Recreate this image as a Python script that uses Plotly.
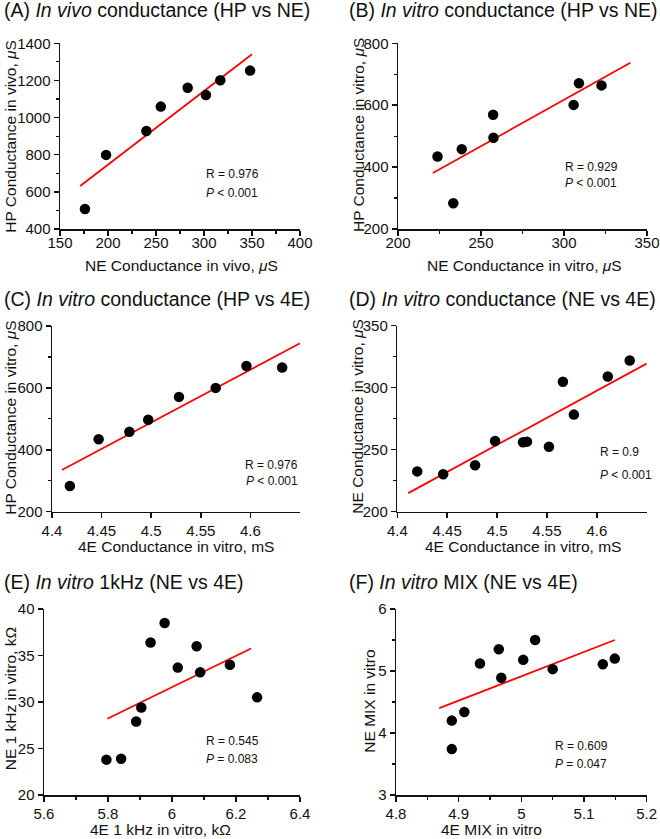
import plotly.graph_objects as go

# ---------------- data ----------------
# (A) In vivo conductance, HP vs NE
a_x = [176, 198, 240, 255, 283, 302, 317, 348]
a_y = [508, 799, 928, 1059, 1161, 1122, 1201, 1253]
a_fit_x = [171, 350]
a_fit_y = [632, 1341]

# (B) In vitro conductance, HP vs NE
b_x = [223.8, 233.3, 238.4, 257.3, 257.5, 305.8, 309.0, 322.6]
b_y = [434, 283, 458, 569, 495, 601, 671, 664]
b_fit_x = [221, 340]
b_fit_y = [381, 737]

# (C) In vitro conductance, HP vs 4E
c_x = [4.418, 4.447, 4.478, 4.497, 4.528, 4.565, 4.596, 4.632]
c_y = [283, 434, 458, 497, 571, 600, 671, 666]
c_fit_x = [4.41, 4.65]
c_fit_y = [335, 744]

# (D) In vitro conductance, NE vs 4E
d_x = [4.420, 4.446, 4.478, 4.498, 4.526, 4.530, 4.552, 4.566, 4.577, 4.611, 4.633]
d_y = [232.5, 230.2, 237.5, 257.0, 256.0, 256.5, 252.4, 304.8, 278.3, 309.0, 322.0]
d_fit_x = [4.411, 4.65]
d_fit_y = [215.0, 319.5]

# (E) In vitro 1 kHz, NE vs 4E
e_x = [5.795, 5.841, 5.888, 5.904, 5.933, 5.977, 6.018, 6.077, 6.088, 6.181, 6.266]
e_y = [23.8, 23.9, 27.9, 29.4, 36.4, 38.5, 33.7, 36.0, 33.2, 34.0, 30.5]
e_fit_x = [5.798, 6.247]
e_fit_y = [28.2, 35.75]

# (F) In vitro MIX, NE vs 4E
f_x = [4.889, 4.889, 4.909, 4.934, 4.964, 4.968, 5.003, 5.022, 5.050, 5.130, 5.149]
f_y = [4.20, 3.74, 4.34, 5.12, 5.35, 4.89, 5.18, 5.50, 5.03, 5.11, 5.20]
f_fit_x = [4.869, 5.149]
f_fit_y = [4.40, 5.50]

# tick values / labels
a_xticks = [150, 200, 250, 300, 350, 400]
a_yticks = [400, 600, 800, 1000, 1200, 1400]
b_xticks = [200, 250, 300, 350]
b_yticks = [200, 400, 600, 800]
c_xticks = [4.4, 4.45, 4.5, 4.55, 4.6]
c_xlabels = ["4.4", "4.45", "4.5", "4.55", "4.6"]
c_yticks = [200, 400, 600, 800]
d_xticks = [4.4, 4.45, 4.5, 4.55, 4.6]
d_xlabels = ["4.4", "4.45", "4.5", "4.55", "4.6"]
d_yticks = [200, 250, 300, 350]
e_xticks = [5.6, 5.8, 6.0, 6.2, 6.4]
e_xlabels = ["5.6", "5.8", "6", "6.2", "6.4"]
e_yticks = [20, 25, 30, 35, 40]
f_xticks = [4.8, 4.9, 5.0, 5.1, 5.2]
f_xlabels = ["4.8", "4.9", "5", "5.1", "5.2"]
f_yticks = [3, 4, 5, 6]

titles = [
    "(A) <i>In vivo</i> conductance (HP vs NE)",
    "(B) <i>In vitro</i> conductance (HP vs NE)",
    "(C) <i>In vitro</i> conductance (HP vs 4E)",
    "(D) <i>In vitro</i> conductance (NE vs 4E)",
    "(E) <i>In vitro</i> 1kHz (NE vs 4E)",
    "(F) <i>In vitro</i> MIX (NE vs 4E)",
]
x_titles = [
    "NE Conductance in vivo, <i>μ</i>S",
    "NE Conductance in vitro, <i>μ</i>S",
    "4E Conductance in vitro, mS",
    "4E Conductance in vitro, mS",
    "4E 1 kHz in vitro, kΩ",
    "4E MIX in vitro",
]
y_titles = [
    "HP Conductance in vivo, <i>μ</i>S",
    "HP Conductance in vitro, <i>μ</i>S",
    "HP Conductance in vitro, <i>μ</i>S",
    "NE Conductance in vitro, <i>μ</i>S",
    "NE 1 kHz in vitro, kΩ",
    "NE MIX in vitro",
]
r_texts = ["R = 0.976", "R = 0.929", "R = 0.976", "R = 0.9", "R = 0.545", "R = 0.609"]
p_texts = ["<i>P</i> &lt; 0.001", "<i>P</i> &lt; 0.001", "<i>P</i> &lt; 0.001",
           "<i>P</i> &lt; 0.001", "<i>P</i> = 0.083", "<i>P</i> = 0.047"]

# ---------------- layout geometry (pixels) ----------------
W, H = 660, 839
FONT = "Liberation Sans, Arial, Helvetica, sans-serif"
INK = "#111111"

panels = [
    dict(px=(60, 300), py=(43.3, 229), xr=[150, 400], yr=[400, 1400], xm=25, ym=100, xso=-6,
         xt=(a_xticks, None), yt=(a_yticks, None), data=(a_x, a_y, a_fit_x, a_fit_y)),
    dict(px=(398, 647), py=(43.3, 229), xr=[200, 350], yr=[200, 800], xm=25, ym=100, xso=-6,
         xt=(b_xticks, None), yt=(b_yticks, None), data=(b_x, b_y, b_fit_x, b_fit_y)),
    dict(px=(52, 300), py=(326, 511.7), xr=[4.4, 4.65], yr=[200, 800], xm=None, ym=100, xso=0,
         xt=(c_xticks, c_xlabels), yt=(c_yticks, None), data=(c_x, c_y, c_fit_x, c_fit_y)),
    dict(px=(397.3, 646.7), py=(325.7, 511.7), xr=[4.4, 4.65], yr=[200, 350], xm=None, ym=25, xso=0,
         xt=(d_xticks, d_xlabels), yt=(d_yticks, None), data=(d_x, d_y, d_fit_x, d_fit_y)),
    dict(px=(44, 300), py=(609, 795), xr=[5.6, 6.4], yr=[20, 40], xm=0.1, ym=None, xso=-1,
         xt=(e_xticks, e_xlabels), yt=(e_yticks, None), data=(e_x, e_y, e_fit_x, e_fit_y)),
    dict(px=(396, 646.7), py=(609, 795), xr=[4.8, 5.2], yr=[3, 6], xm=0.05, ym=0.5, xso=-1,
         xt=(f_xticks, f_xlabels), yt=(f_yticks, None), data=(f_x, f_y, f_fit_x, f_fit_y)),
]

# label positions (pixels)
title_pos = [(2, 10), (346.7, 10), (2, 299), (346.7, 299), (2, 581.5), (346.7, 581.5)]
xt_pos = [(181.7, 265), (524, 265), (175.8, 546.7), (522.5, 546.7), (160, 829), (491.7, 829.5)]
yt_pos = [(11, 136.7), (358, 135), (10.3, 417.5), (358, 416.7), (10.3, 699), (370, 700.7)]
# stats: (x domain, y domain of R, y domain of P, anchor)
stat_pos = [
    (0.60, 0.296, 0.194, "left"),
    (0.663, 0.333, 0.247, "left"),
    (1.0, 0.252, 0.166, "right"),
    (0.803, 0.321, 0.197, "left"),
    (0.625, 0.29, 0.194, "left"),
    (0.625, 0.265, 0.167, "left"),
]

fig = go.Figure()
annotations = []
layout = dict(
    template="none",
    width=W, height=H,
    margin=dict(l=0, r=0, t=0, b=0, pad=0, autoexpand=False),
    paper_bgcolor="white", plot_bgcolor="white",
    showlegend=False,
    hovermode=False,
    font=dict(family=FONT, color=INK, size=15),
)

for i, p in enumerate(panels):
    n = i + 1
    sx = "" if n == 1 else str(n)
    xs, ys, fx, fy = p["data"]
    fig.add_trace(go.Scatter(x=fx, y=fy, mode="lines", line=dict(color="#ff0000", width=1.8),
                             xaxis="x" + sx, yaxis="y" + sx, hoverinfo="skip"))
    fig.add_trace(go.Scatter(x=xs, y=ys, mode="markers", marker=dict(color="black", size=10.5),
                             xaxis="x" + sx, yaxis="y" + sx))
    xdom = [p["px"][0] / W, p["px"][1] / W]
    ydom = [1 - p["py"][1] / H, 1 - p["py"][0] / H]
    ax_common = dict(showgrid=False, zeroline=False, showline=True, linecolor=INK, linewidth=1.5,
                     ticks="outside", ticklen=5, tickwidth=1.5, tickcolor=INK, automargin=False,
                     tickfont=dict(family=FONT, size=15, color=INK), mirror=False)
    xv, xl = p["xt"]
    yv, yl = p["yt"]
    xa = dict(ax_common, domain=xdom, range=p["xr"], tickmode="array", tickvals=xv,
              anchor="y" + sx, ticklabelstandoff=p["xso"])
    if xl:
        xa["ticktext"] = xl
    if p["xm"]:
        xa["minor"] = dict(ticks="outside", ticklen=3, tickwidth=1.2, tickcolor=INK,
                           tick0=p["xr"][0], dtick=p["xm"], showgrid=False)
    ya = dict(ax_common, domain=ydom, range=p["yr"], tickmode="array", tickvals=yv,
              anchor="x" + sx)
    if yl:
        ya["ticktext"] = yl
    if p["ym"]:
        ya["minor"] = dict(ticks="outside", ticklen=3, tickwidth=1.2, tickcolor=INK,
                           tick0=p["yr"][0], dtick=p["ym"], showgrid=False)
    layout["xaxis" + sx] = xa
    layout["yaxis" + sx] = ya

    # panel title
    tx, ty = title_pos[i]
    annotations.append(dict(text=titles[i], x=tx / W, y=1 - ty / H, xref="paper", yref="paper",
                            xanchor="left", yanchor="middle", showarrow=False,
                            font=dict(family=FONT, size=19.5, color=INK)))
    # axis titles
    ax_, ay_ = xt_pos[i]
    annotations.append(dict(text=x_titles[i], x=ax_ / W, y=1 - ay_ / H, xref="paper", yref="paper",
                            xanchor="center", yanchor="middle", showarrow=False,
                            font=dict(family=FONT, size=15.5, color=INK)))
    bx, by = yt_pos[i]
    annotations.append(dict(text=y_titles[i], x=bx / W, y=1 - by / H, xref="paper", yref="paper",
                            xanchor="center", yanchor="middle", textangle=-90, showarrow=False,
                            font=dict(family=FONT, size=15.5, color=INK)))
    # stats
    sxp, ry, py_, anc = stat_pos[i]
    for txt, yy in ((r_texts[i], ry), (p_texts[i], py_)):
        annotations.append(dict(text=txt, x=sxp, y=yy, xref="x" + sx + " domain",
                                yref="y" + sx + " domain", xanchor=anc, yanchor="middle",
                                showarrow=False, font=dict(family=FONT, size=12, color=INK)))

layout["annotations"] = annotations
fig.update_layout(**layout)
fig.write_html(
    "out.html",
    config={"displayModeBar": False, "staticPlot": True},
    post_script="document.body.style.margin='0';document.body.style.overflow='hidden';",
)
